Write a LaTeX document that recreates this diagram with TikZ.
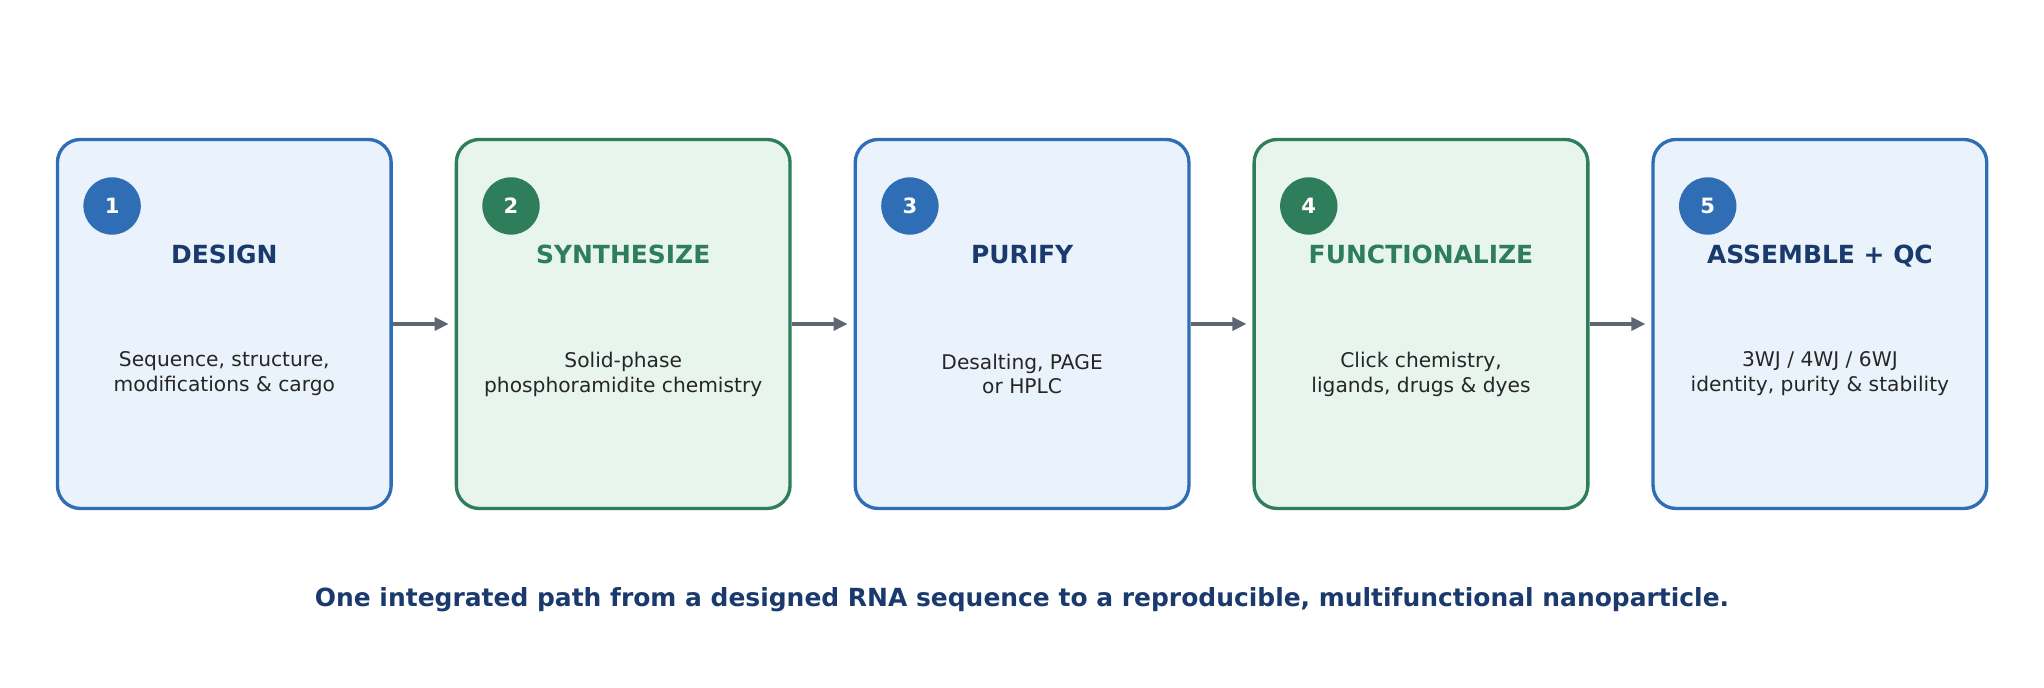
\documentclass[tikz,border=0pt]{standalone}
\usepackage{fontspec}
\setmainfont{DejaVu Sans}
\usetikzlibrary{arrows.meta}
\definecolor{bluefill}{HTML}{EAF2FB}
\definecolor{blueline}{HTML}{2F6DB5}
\definecolor{bluetext}{HTML}{1A3A6E}
\definecolor{greenfill}{HTML}{E8F5EE}
\definecolor{greenline}{HTML}{2E7D5B}
\definecolor{arrowgray}{HTML}{5F6673}
\tikzset{
  stagebox/.style={draw=#1line, fill=#1fill, line width=0.95pt, rounded corners=0.23cm,
    minimum width=3.337cm, minimum height=3.69cm, inner sep=0pt},
  stagenum/.style={circle, fill=#1line, minimum size=0.574cm, inner sep=0pt,
    text=white, font=\fontsize{6}{7}\selectfont\bfseries},
  stagetitle/.style={anchor=base, font=\fontsize{7.1}{8.5}\selectfont\bfseries},
  stagebody/.style={align=center, text=black!85, font=\fontsize{5.75}{7.1}\selectfont},
  flow/.style={-{Triangle[length=0.14cm,width=0.13cm]}, draw=arrowgray, line width=0.95pt}
}
\begin{document}
\begin{tikzpicture}
  \useasboundingbox (0,0) rectangle (20.44,6.88);

  \foreach \i/\col/\tcol/\title/\body in {
      1/blue/bluetext/DESIGN/{Sequence, structure,\\modifications \& cargo},
      2/green/greenline/SYNTHESIZE/{Solid-phase\\phosphoramidite chemistry},
      3/blue/bluetext/PURIFY/{Desalting, PAGE\\or HPLC},
      4/green/greenline/FUNCTIONALIZE/{Click chemistry,\\ligands, drugs \& dyes},
      5/blue/bluetext/ASSEMBLE + QC/{3WJ / 4WJ / 6WJ\\identity, purity \& stability}} {
    \pgfmathsetmacro{\xc}{2.243+3.989*(\i-1)}
    \node[stagebox=\col] (box\i) at (\xc, 3.64) {};
    \node[stagenum=\col] (num\i) at (\xc-1.122, 4.82) {\i};
    \node[stagetitle, text=\tcol] (title\i) at (\xc, 4.24) {\title};
    \node[stagebody] (body\i) at (\xc, 3.14) {\body};
  }

  % arrows between stages
  \foreach \i [evaluate=\i as \j using int(\i+1)] in {1,...,4}
    \draw[flow] (box\i.east) -- ([xshift=-0.06cm]box\j.west);

  \node[font=\fontsize{7.1}{8.5}\selectfont\bfseries, text=bluetext] (caption) at (10.22, 0.88)
    {One integrated path from a designed RNA sequence to a reproducible, multifunctional nanoparticle.};
\end{tikzpicture}
\end{document}
